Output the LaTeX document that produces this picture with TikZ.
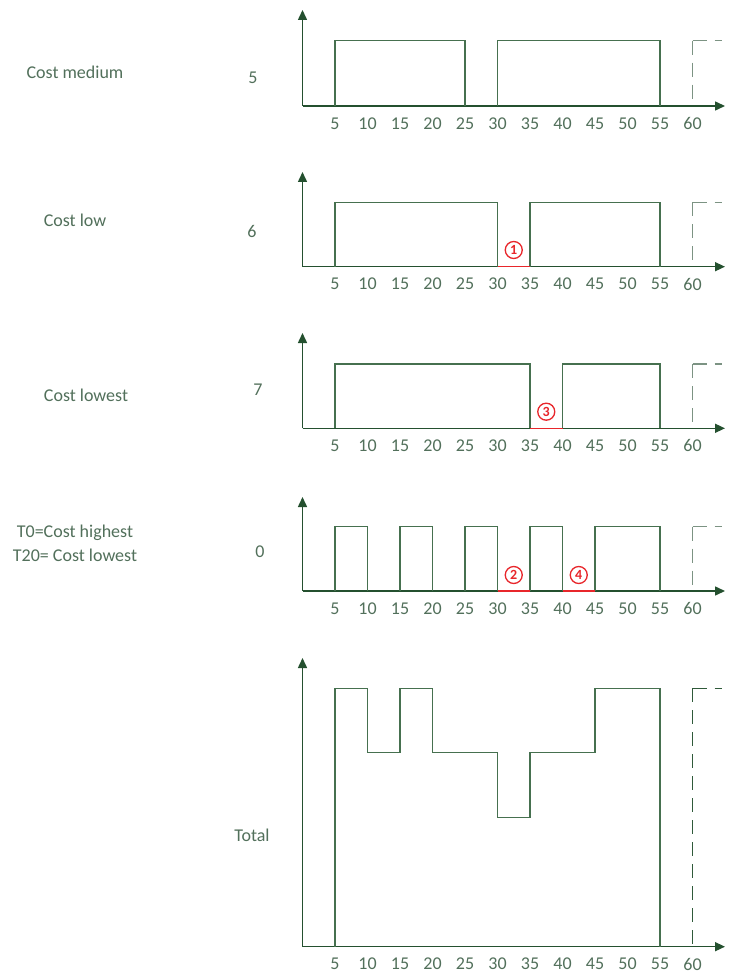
\documentclass[tikz,border=0pt]{standalone}
\usepackage{fontspec}
\setmainfont{Carlito}
\usetikzlibrary{arrows.meta}
\definecolor{axiscol}{HTML}{24502F}
\definecolor{linecol}{HTML}{46704F}
\definecolor{textcol}{HTML}{52705B}
\definecolor{dashcol}{HTML}{7C9383}
\definecolor{dashdark}{HTML}{2F5A3A}
\definecolor{redcol}{HTML}{E8262B}
\tikzset{
  axisln/.style={draw=axiscol, line width=1.5pt, -{Triangle[length=10pt,width=9pt]}},
  stepln/.style={draw=linecol, line width=1.3pt},
  redln/.style={draw=redcol, line width=1.6pt},
  dashln/.style={draw=dashcol, line width=1.5pt, dash pattern=on 14pt off 8pt},
  dashdk/.style={draw=dashdark, line width=1.5pt, dash pattern=on 14pt off 8pt},
  lbl/.style={text=textcol, font=\fontsize{18}{21}\selectfont, inner sep=0pt},
  ticklbl/.style={text=textcol, font=\fontsize{18}{20}\selectfont, inner sep=0pt},
  circnum/.style={circle, draw=redcol, line width=1.3pt, text=redcol, inner sep=0pt,
    minimum size=17pt, font=\fontsize{14}{14}\selectfont\bfseries},
}
\newcommand\mychart[4]{%
  % #1 id, #2 axis y, #3 top y, #4 level y
  \coordinate (o#1) at (0,#2);
  \coordinate (yt#1) at (0,#3);
  \coordinate (xt#1) at (65,#2);
  \draw[axisln] (o#1) -- (yt#1);
  \draw[axisln] (o#1) -- (xt#1);
  \foreach \t in {5,10,...,60} {\node[ticklbl] (l#1-\t) at (\t,{#2+17.5}) {\t};}
}
\newcommand\mydash[3]{%
  % #1 style, #2 axis y, #3 level y
  \draw[#1] (60,#3) -- (64.5,#3);
  \draw[#1] (60,#3) -- (60,#2);
}
\begin{document}
\begin{tikzpicture}[x=1pt,y=-1pt]
\useasboundingbox (0,0) rectangle (730,973);
\fill[white] (0,0) rectangle (730,973);

% left labels
\node[lbl] (tmed) at (75,72) {Cost medium};
\node[lbl] (vmed) at (253,78) {5};
\node[lbl] (tlow) at (75,220) {Cost low};
\node[lbl] (vlow) at (252,231) {6};
\node[lbl] (tlst) at (86,395) {Cost lowest};
\node[lbl] (vlst) at (258,390) {7};
\node[lbl] (tt0) at (75,533) {T0=Cost highest};
\node[lbl] (tt20) at (75,555) {T20= Cost lowest};
\node[lbl] (vt0) at (260,552) {0};
\node[lbl] (ttot) at (252,835) {Total};

\begin{scope}[xshift=302.5pt, x=6.5pt]
% chart 1: cost medium
\mychart{a}{106}{10}{40.7}
\draw[stepln] (5,106) |- (25,40.7) -- (25,106);
\draw[stepln] (30,106) |- (55,40.7) -- (55,106);
\mydash{dashln}{106}{40.7}

% chart 2: cost low
\mychart{b}{266.7}{172}{202.3}
\draw[stepln] (5,266.7) |- (30,202.3) -- (30,266.7);
\draw[stepln] (35,266.7) |- (55,202.3) -- (55,266.7);
\mydash{dashln}{266.7}{202.3}
\draw[redln] (30,266.7) -- (35,266.7);
\node[circnum] (c1) at (32.5,250) {1};

% chart 3: cost lowest
\mychart{c}{428.3}{333}{364}
\draw[stepln] (5,428.3) |- (35,364) -- (35,428.3);
\draw[stepln] (40,428.3) |- (55,364) -- (55,428.3);
\mydash{dashln}{428.3}{364}
\draw[redln] (35,428.3) -- (40,428.3);
\node[circnum] (c3) at (37.5,411.7) {3};

% chart 4: T0
\mychart{d}{591}{497}{526.7}
\foreach \s/\e in {5/10,15/20,25/30,35/40,45/55}
  {\draw[stepln] (\s,591) |- (\e,526.7) -- (\e,591);}
\mydash{dashln}{591}{526.7}
\draw[redln] (30,591) -- (35,591);
\draw[redln] (40,591) -- (45,591);
\node[circnum] (c2) at (32.5,575) {2};
\node[circnum] (c4) at (42.5,575) {4};

% total
\mychart{e}{946.7}{658}{688.3}
\draw[stepln] (5,946.7) -- (5,688.3) -- (10,688.3) -- (10,752.7) -- (15,752.7)
  -- (15,688.3) -- (20,688.3) -- (20,752.7) -- (30,752.7) -- (30,817.3)
  -- (35,817.3) -- (35,752.7) -- (45,752.7) -- (45,688.3) -- (55,688.3) -- (55,946.7);
\mydash{dashdk}{946.7}{688.3}
\end{scope}
\end{tikzpicture}
\end{document}
